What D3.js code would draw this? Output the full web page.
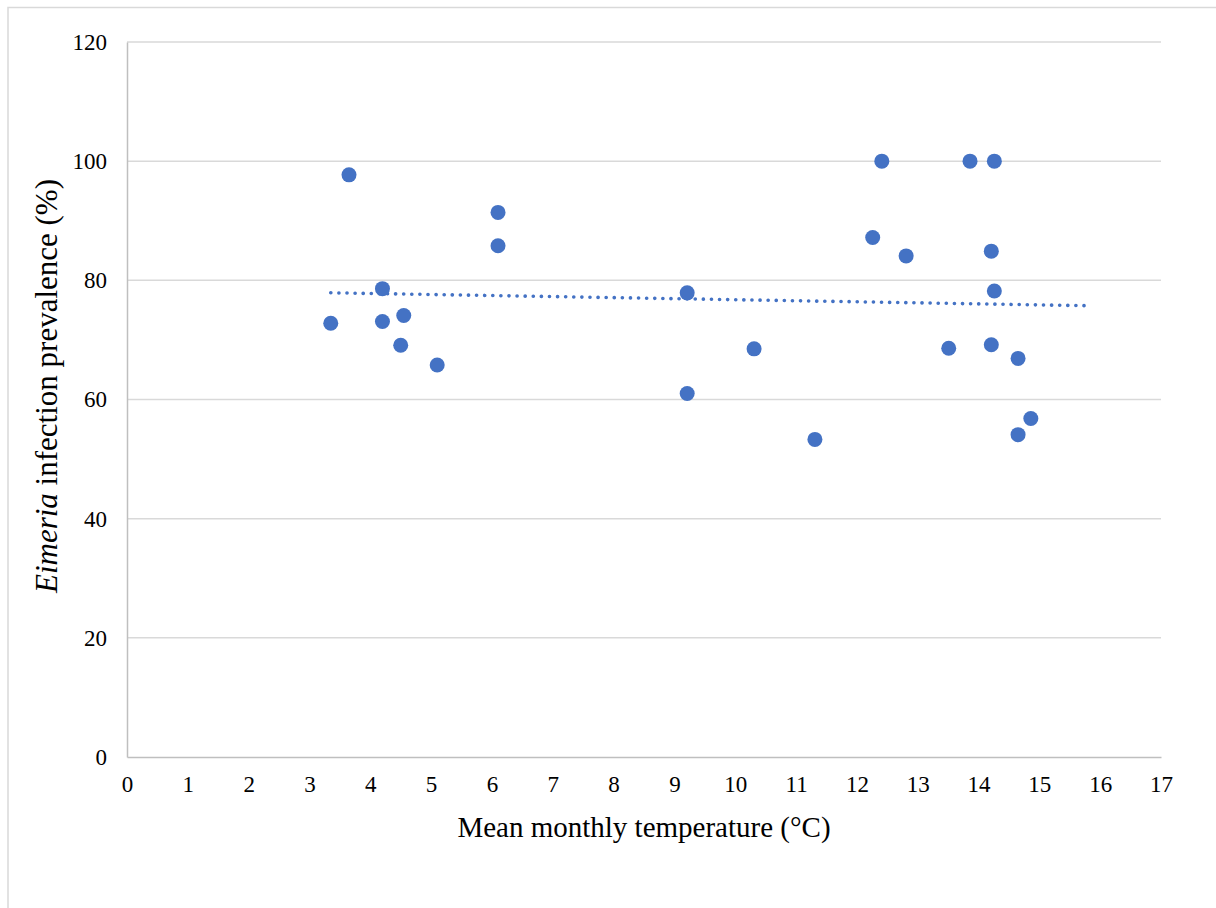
<!DOCTYPE html>
<html>
<head>
<meta charset="utf-8">
<script src="https://cdn.jsdelivr.net/npm/d3@7"></script>
<style>
  html, body { margin: 0; padding: 0; background: #fff; }
  svg { display: block; }
  svg text { font-family: "Liberation Serif", "Times New Roman", serif !important; fill: #000; }
</style>
</head>
<body>
<svg id="chart" width="1216" height="908"></svg>
<script>
// Mean monthly temperature (°C) per sampling month
const temperature = [3.35, 3.65, 4.20, 4.20, 4.55, 4.50, 5.10, 6.10, 6.10, 9.21, 9.21, 10.31, 11.31,
  12.26, 12.41, 12.81, 13.51, 13.86, 14.26, 14.21, 14.26, 14.21, 14.65, 14.86, 14.65];
// Eimeria infection prevalence (%) for the same months
const prevalence = [72.8, 97.7, 78.6, 73.1, 74.1, 69.1, 65.8, 91.4, 85.8, 77.9, 61.0, 68.5, 53.3,
  87.2, 100, 84.1, 68.6, 100, 100, 84.9, 78.2, 69.2, 66.9, 56.8, 54.1];

const xTicks = d3.range(0, 18, 1);
const yTicks = [0, 20, 40, 60, 80, 100, 120];
const trendForward = 0.9; // linear trendline extended past the last point

const FONT = "'Liberation Serif', 'Times New Roman', serif";
const svg = d3.select("#chart");
const W = 1216, H = 908;
const plot = { left: 127, right: 1161, top: 42, bottom: 757 };

// chart frame
svg.append("rect")
  .attr("x", 8).attr("y", 7.5)
  .attr("width", W + 20).attr("height", H + 20)
  .attr("fill", "#fff").attr("stroke", "#d9d9d9").attr("stroke-width", 1.5);

const x = d3.scaleLinear().domain([0, 17]).range([plot.left, plot.right]);
const y = d3.scaleLinear().domain([0, 120]).range([plot.bottom, plot.top]);

// horizontal gridlines
svg.append("g")
  .selectAll("line")
  .data(yTicks.filter(d => d > 0))
  .join("line")
  .attr("x1", plot.left).attr("x2", plot.right)
  .attr("y1", d => y(d)).attr("y2", d => y(d))
  .attr("stroke", "#d9d9d9").attr("stroke-width", 1.5);

// y axis
const yAxis = svg.append("g")
  .attr("transform", `translate(${plot.left},0)`)
  .call(d3.axisLeft(y).tickValues(yTicks).tickSize(0).tickPadding(20));
yAxis.attr("font-family", FONT).attr("font-size", 23);
yAxis.select(".domain").attr("stroke", "#bfbfbf").attr("stroke-width", 1.5);

// x axis
const xAxis = svg.append("g")
  .attr("transform", `translate(0,${plot.bottom})`)
  .call(d3.axisBottom(x).tickValues(xTicks).tickFormat(d3.format("d")).tickSize(0).tickPadding(19));
xAxis.attr("font-family", FONT).attr("font-size", 23);
xAxis.select(".domain").attr("stroke", "#bfbfbf").attr("stroke-width", 1.5);

// least-squares trendline
const n = temperature.length;
const mx = d3.mean(temperature), my = d3.mean(prevalence);
let sxy = 0, sxx = 0;
for (let i = 0; i < n; i++) {
  sxy += (temperature[i] - mx) * (prevalence[i] - my);
  sxx += (temperature[i] - mx) ** 2;
}
const slope = sxy / sxx, intercept = my - slope * mx;
const t0 = d3.min(temperature), t1 = d3.max(temperature) + trendForward;
svg.append("line")
  .attr("x1", x(t0)).attr("y1", y(intercept + slope * t0))
  .attr("x2", x(t1)).attr("y2", y(intercept + slope * t1))
  .attr("stroke", "#4472c4").attr("stroke-width", 3.6)
  .attr("stroke-linecap", "round")
  .attr("stroke-dasharray", "0.1 8");

// data points
svg.append("g")
  .selectAll("circle")
  .data(temperature.map((t, i) => [t, prevalence[i]]))
  .join("circle")
  .attr("cx", d => x(d[0]))
  .attr("cy", d => y(d[1]))
  .attr("r", 7.5)
  .attr("fill", "#4472c4");

// axis titles
svg.append("text")
  .attr("x", 644).attr("y", 837)
  .attr("text-anchor", "middle")
  .attr("font-family", FONT)
  .attr("font-size", 29)
  .text("Mean monthly temperature (°C)");

const yt = svg.append("text")
  .attr("transform", `translate(57,386) rotate(-90)`)
  .attr("text-anchor", "middle")
  .attr("font-family", FONT)
  .attr("font-size", 31);
yt.append("tspan").style("font-style", "italic").text("Eimeria");
yt.append("tspan").text(" infection prevalence (%)");
</script>
</body>
</html>
